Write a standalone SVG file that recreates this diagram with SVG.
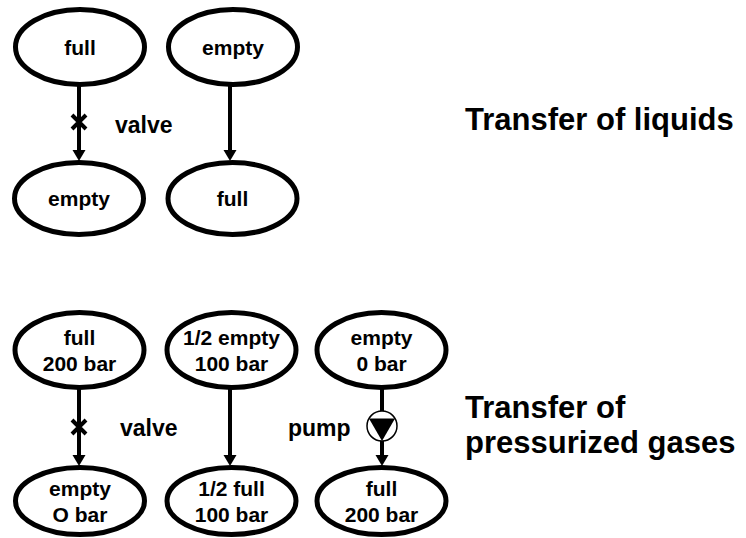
<svg xmlns="http://www.w3.org/2000/svg" width="746" height="538" viewBox="0 0 746 538">
<style>
.node ellipse{fill:#fff;stroke:#000;stroke-width:5}
.nt{font-family:"Liberation Sans",Arial,sans-serif;font-weight:bold;font-size:21px;text-anchor:middle;fill:#000}
.lbl{font-family:"Liberation Sans",Arial,sans-serif;font-weight:bold;font-size:23px;fill:#000}
.title{font-family:"Liberation Sans",Arial,sans-serif;font-weight:bold;font-size:31px;fill:#000}
.conn line{stroke:#000;stroke-width:4}
.valve{stroke:#000;stroke-width:4;fill:none}
</style>
<defs>
<marker id="ah" markerUnits="userSpaceOnUse" markerWidth="14" markerHeight="14" refX="0" refY="6.5" orient="auto" overflow="visible">
<path d="M0,0 L11,6.5 L0,13 z" fill="#000"/>
</marker>
</defs>
<rect width="746" height="538" fill="#fff"/>

<g id="connectors" class="conn">
<line x1="79" y1="85" x2="79" y2="150" marker-end="url(#ah)"/>
<line x1="230" y1="85" x2="230" y2="150" marker-end="url(#ah)"/>
<line x1="79" y1="388" x2="79" y2="455" marker-end="url(#ah)"/>
<line x1="230" y1="388" x2="230" y2="455" marker-end="url(#ah)"/>
<line x1="382" y1="388" x2="382" y2="411"/>
<line x1="382" y1="441" x2="382" y2="455" marker-end="url(#ah)"/>
<path class="valve" d="M72,115 L86,129 M86,115 L72,129"/>
<path class="valve" d="M72,420 L86,434 M86,420 L72,434"/>
<g id="pump">
<circle cx="382" cy="426" r="15" fill="#fff" stroke="#000" stroke-width="1.5"/>
<path d="M369,418.5 L395,418.5 L382,441 z" fill="#000"/>
</g>
</g>

<g id="n-l1" class="node"><ellipse cx="80" cy="47" rx="64.5" ry="37.5"/><text class="nt" x="80" y="55">full</text></g>
<g id="n-l2" class="node"><ellipse cx="233" cy="47" rx="64.5" ry="37.5"/><text class="nt" x="233" y="55">empty</text></g>
<g id="n-l3" class="node"><ellipse cx="79" cy="198.5" rx="64.5" ry="36"/><text class="nt" x="79" y="206">empty</text></g>
<g id="n-l4" class="node"><ellipse cx="232.5" cy="198.5" rx="64.5" ry="36"/><text class="nt" x="232.5" y="206">full</text></g>

<g id="n-g1" class="node"><ellipse cx="79.5" cy="350" rx="64.5" ry="37.5"/><text class="nt" x="79.5" y="345">full</text><text class="nt" x="79.5" y="371">200 bar</text></g>
<g id="n-g2" class="node"><ellipse cx="231.5" cy="350" rx="64.5" ry="37.5"/><text class="nt" x="231.5" y="345">1/2 empty</text><text class="nt" x="231.5" y="371">100 bar</text></g>
<g id="n-g3" class="node"><ellipse cx="381.5" cy="350" rx="64.5" ry="37.5"/><text class="nt" x="381.5" y="345">empty</text><text class="nt" x="381.5" y="371">0 bar</text></g>
<g id="n-g4" class="node"><ellipse cx="80" cy="501" rx="64.5" ry="33.5"/><text class="nt" x="80" y="496">empty</text><text class="nt" x="80" y="522">O bar</text></g>
<g id="n-g5" class="node"><ellipse cx="231.5" cy="501" rx="64.5" ry="33.5"/><text class="nt" x="231.5" y="496">1/2 full</text><text class="nt" x="231.5" y="522">100 bar</text></g>
<g id="n-g6" class="node"><ellipse cx="381.5" cy="501" rx="64.5" ry="33.5"/><text class="nt" x="381.5" y="496">full</text><text class="nt" x="381.5" y="522">200 bar</text></g>

<g id="labels">
<text class="lbl" x="115" y="133">valve</text>
<text class="lbl" x="120" y="436">valve</text>
<text class="lbl" x="288" y="436">pump</text>
<text class="title" x="465" y="130">Transfer of liquids</text>
<text class="title" x="465" y="418">Transfer of</text>
<text class="title" x="465" y="453">pressurized gases</text>
</g>
</svg>
